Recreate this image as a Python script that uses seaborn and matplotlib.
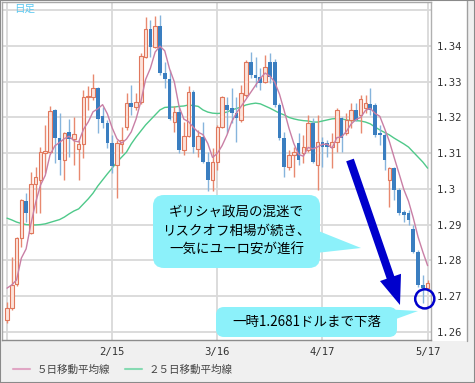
import numpy as np
import pandas as pd
import matplotlib
matplotlib.use("Agg")
import matplotlib.pyplot as plt
import seaborn as sns
from matplotlib.patches import FancyBboxPatch, Polygon, Rectangle, FancyArrowPatch
from matplotlib.lines import Line2D
from matplotlib.transforms import IdentityTransform

# ---------------- data (EUR/USD daily) ----------------
dates = pd.bdate_range("2012-01-16", "2012-05-17")

opens = [1.2633, 1.2666, 1.2734, 1.2862, 1.2966, 1.2876, 1.3014, 1.3025, 1.3100, 1.3103,
         1.3221, 1.3142, 1.3081, 1.3159, 1.3140, 1.3112, 1.3126, 1.3257, 1.3257, 1.3282,
         1.3204, 1.3184, 1.3128, 1.3067, 1.3126, 1.3173, 1.3240, 1.3229, 1.3243, 1.3369,
         1.3448, 1.3397, 1.3456, 1.3324, 1.3308, 1.3187, 1.3215, 1.3109, 1.3148, 1.3271,
         1.3112, 1.3145, 1.3075, 1.3025, 1.3075, 1.3173, 1.3235, 1.3226, 1.3212, 1.3193,
         1.3263, 1.3355, 1.3319, 1.3313, 1.3299, 1.3355, 1.3355, 1.3235, 1.3142, 1.3061,
         1.3095, 1.3128, 1.3100, 1.3109, 1.3184, 1.3067, 1.3131, 1.3128, 1.3117, 1.3131,
         1.3198, 1.3156, 1.3193, 1.3221, 1.3207, 1.3226, 1.3238, 1.3235, 1.3156, 1.3151,
         1.3025, 1.3058, 1.2997, 1.2935, 1.2932, 1.2888, 1.2823, 1.2731, 1.2722]
highs = [1.2683, 1.2809, 1.2866, 1.2972, 1.2988, 1.3047, 1.3061, 1.3117, 1.3179, 1.3232,
         1.3225, 1.3212, 1.3160, 1.3196, 1.3201, 1.3137, 1.3277, 1.3288, 1.3322, 1.3285,
         1.3229, 1.3193, 1.3151, 1.3137, 1.3173, 1.3268, 1.3291, 1.3268, 1.3380, 1.3481,
         1.3473, 1.3484, 1.3487, 1.3355, 1.3333, 1.3232, 1.3229, 1.3187, 1.3288, 1.3277,
         1.3165, 1.3187, 1.3103, 1.3114, 1.3179, 1.3260, 1.3257, 1.3282, 1.3257, 1.3291,
         1.3361, 1.3383, 1.3369, 1.3338, 1.3375, 1.3380, 1.3364, 1.3240, 1.3159, 1.3109,
         1.3117, 1.3156, 1.3151, 1.3207, 1.3198, 1.3207, 1.3145, 1.3137, 1.3156, 1.3226,
         1.3201, 1.3212, 1.3240, 1.3240, 1.3263, 1.3263, 1.3282, 1.3240, 1.3179, 1.3159,
         1.3061, 1.3061, 1.3002, 1.2941, 1.2941, 1.2899, 1.2830, 1.2759, 1.2745]
lows = [1.2624, 1.2661, 1.2728, 1.2837, 1.2907, 1.2874, 1.2932, 1.2932, 1.3044, 1.3100,
        1.3072, 1.3039, 1.3025, 1.3089, 1.3067, 1.3025, 1.3086, 1.3221, 1.3249, 1.3156,
        1.3170, 1.3114, 1.3044, 1.2974, 1.3100, 1.3165, 1.3207, 1.3221, 1.3238, 1.3366,
        1.3369, 1.3394, 1.3319, 1.3282, 1.3193, 1.3159, 1.3100, 1.3095, 1.3145, 1.3100,
        1.3089, 1.3072, 1.2995, 1.2995, 1.3053, 1.3170, 1.3156, 1.3184, 1.3131, 1.3187,
        1.3257, 1.3310, 1.3285, 1.3277, 1.3296, 1.3296, 1.3229, 1.3137, 1.3033, 1.3053,
        1.3033, 1.3067, 1.3072, 1.3103, 1.3072, 1.2997, 1.3061, 1.3089, 1.3058, 1.3103,
        1.3103, 1.3150, 1.3170, 1.3190, 1.3156, 1.3212, 1.3207, 1.3145, 1.3123, 1.3053,
        1.2949, 1.2969, 1.2927, 1.2907, 1.2899, 1.2820, 1.2725, 1.2681, 1.2717]
closes = [1.2666, 1.2731, 1.2862, 1.2969, 1.2932, 1.3014, 1.3033, 1.3103, 1.3106, 1.3218,
          1.3142, 1.3081, 1.3156, 1.3140, 1.3154, 1.3126, 1.3257, 1.3260, 1.3282, 1.3196,
          1.3184, 1.3128, 1.3064, 1.3128, 1.3137, 1.3240, 1.3229, 1.3243, 1.3372, 1.3448,
          1.3397, 1.3456, 1.3324, 1.3308, 1.3196, 1.3215, 1.3109, 1.3148, 1.3271, 1.3117,
          1.3148, 1.3075, 1.3025, 1.3075, 1.3173, 1.3257, 1.3221, 1.3212, 1.3198, 1.3268,
          1.3355, 1.3319, 1.3310, 1.3296, 1.3341, 1.3313, 1.3235, 1.3142, 1.3061, 1.3095,
          1.3103, 1.3081, 1.3117, 1.3184, 1.3075, 1.3131, 1.3117, 1.3117, 1.3131, 1.3221,
          1.3142, 1.3193, 1.3221, 1.3193, 1.3252, 1.3240, 1.3221, 1.3151, 1.3151, 1.3081,
          1.3058, 1.2997, 1.2932, 1.2927, 1.2913, 1.2823, 1.2731, 1.2722, 1.2736]
# first four 5-day MA values (need closes before the chart)
ma5_head = [1.2722, 1.2731, 1.2745, 1.2806]
# 25-day MA
ma25 = [1.2918, 1.2913, 1.2907, 1.2903, 1.2900, 1.2899, 1.2899, 1.2900, 1.2902, 1.2906,
        1.2910, 1.2914, 1.2921, 1.2930, 1.2938, 1.2944, 1.2958, 1.2972, 1.2988, 1.3008,
        1.3025, 1.3042, 1.3058, 1.3075, 1.3089, 1.3103, 1.3126, 1.3145, 1.3162, 1.3179,
        1.3193, 1.3207, 1.3221, 1.3228, 1.3229, 1.3229, 1.3231, 1.3232, 1.3235, 1.3233,
        1.3231, 1.3221, 1.3215, 1.3212, 1.3211, 1.3212, 1.3215, 1.3221, 1.3225, 1.3229,
        1.3235, 1.3238, 1.3240, 1.3238, 1.3232, 1.3226, 1.3219, 1.3212, 1.3207, 1.3200,
        1.3196, 1.3193, 1.3191, 1.3190, 1.3187, 1.3187, 1.3190, 1.3193, 1.3196, 1.3197,
        1.3196, 1.3193, 1.3191, 1.3191, 1.3190, 1.3187, 1.3182, 1.3173, 1.3165, 1.3158,
        1.3151, 1.3142, 1.3134, 1.3126, 1.3117, 1.3103, 1.3089, 1.3075, 1.3058]

y_ticks = [1.26, 1.27, 1.28, 1.29, 1.30, 1.31, 1.32, 1.33, 1.34, 1.35]
y_labels = ["1.26", "1.27", "1.28", "1.29", "1.3", "1.31", "1.32", "1.33", "1.34", ""]
tick_dates = ["2012-01-16", "2012-02-15", "2012-03-16", "2012-04-17", "2012-05-17"]
tick_labels = ["", "2/15", "3/16", "4/17", "5/17"]

legend_labels = ["５日移動平均線", "２５日移動平均線"]
title_label = "日足"
callout1 = ["ギリシャ政局の混迷で", "リスクオフ相場が続き、", "一気にユーロ安が進行"]
callout2 = "一時1.2681ドルまで下落"
circled_low = 1.2681

# ---------------- frame ----------------
df = pd.DataFrame({"date": dates, "open": opens, "high": highs,
                   "low": lows, "close": closes, "ma25": ma25})
df["idx"] = np.arange(len(df))
ma5 = df["close"].rolling(5).mean()
ma5.iloc[:4] = ma5_head
df["ma5"] = ma5

sns.set_theme(style="white")
plt.rcParams["font.family"] = ["Noto Sans CJK JP", "DejaVu Sans"]

W, H = 475, 383
fig = plt.figure(figsize=(W / 100, H / 100), dpi=100)
fig.patch.set_facecolor("white")

def fx(px):
    return px / W

def fy(py):
    return 1 - py / H

# grey panels (legend strip at bottom, thin strip at right)
fig.add_artist(Rectangle((0, 0), 1, fy(341), transform=fig.transFigure,
                         facecolor="#f0f0f0", edgecolor="none", zorder=-2))
fig.add_artist(Rectangle((fx(467), 0), 1 - fx(467), 1, transform=fig.transFigure,
                         facecolor="#f0f0f0", edgecolor="none", zorder=-2))
fig.add_artist(Line2D([fx(467), fx(467)], [fy(341), 1], transform=fig.transFigure,
                      color="#a0a0a0", lw=1, zorder=-1))
fig.add_artist(Rectangle((0, 0), 1, 1, transform=fig.transFigure, facecolor="none",
                         edgecolor="#8a8a8a", lw=1.5, zorder=10))

ax = fig.add_axes([fx(2), fy(340), fx(431) - fx(2), fy(2) - fy(340)])
ax.set_facecolor("white")

# ---------------- candles ----------------
up = df["close"] >= df["open"]
dn = ~up
ax.vlines(df.loc[up, "idx"], df.loc[up, "low"], df.loc[up, "high"],
          color="#e8896f", lw=1.0, zorder=2)
ax.vlines(df.loc[dn, "idx"], df.loc[dn, "low"], df.loc[dn, "high"],
          color="#86b4dc", lw=1.0, zorder=2)
ax.bar(df.loc[up, "idx"], (df["close"] - df["open"])[up].clip(lower=0.00015),
       bottom=df.loc[up, "open"], width=0.74, facecolor="#fde3da",
       edgecolor="#e0775c", lw=0.8, zorder=3)
ax.bar(df.loc[dn, "idx"], (df["open"] - df["close"])[dn].clip(lower=0.00015),
       bottom=df.loc[dn, "close"], width=0.78, color="#3a7ec0", lw=0, zorder=3)

# ---------------- moving averages ----------------
c5, c25 = "#c97fa5", "#4fc98a"
sns.lineplot(data=df, x="idx", y="ma5", color=c5, lw=1.0, ax=ax, zorder=4)
sns.lineplot(data=df, x="idx", y="ma25", color=c25, lw=1.0, ax=ax, zorder=1.5)

# ---------------- axes ----------------
step_px = 4.78
ax.set_xlim(-5 / step_px, (431 - 7) / step_px)
ax.set_ylim(1.34 - 294 * 0.00028, 1.34 + 44 * 0.00028)
xt = [int(df.index[df["date"] == pd.Timestamp(d)][0]) for d in tick_dates]
ax.set_xticks(xt)
ax.set_xticklabels(tick_labels, fontsize=7.6, family="DejaVu Sans Mono", color="#333333")
ax.set_yticks(y_ticks)
ax.set_yticklabels(y_labels, fontsize=7.6, family="DejaVu Sans Mono", color="#333333")
ax.yaxis.tick_right()
ax.tick_params(axis="both", length=0)
ax.tick_params(axis="x", pad=5.2)
ax.tick_params(axis="y", pad=4.2)
ax.set_xlabel("")
ax.set_ylabel("")
ax.grid(True, color="#d9d9d9", lw=1.3, zorder=0)
ax.set_axisbelow(True)
for s, c in [("left", "#a8a8a8"), ("top", "#a8a8a8"), ("bottom", "#8c8c8c"), ("right", "#b0b0b0")]:
    ax.spines[s].set_visible(True)
    ax.spines[s].set_color(c)
    ax.spines[s].set_linewidth(1.0)

# title tag
fig.text(fx(14), fy(9), title_label, fontsize=7.6, color="#5cc8f0", va="center", ha="left")

# ---------------- legend ----------------
handles = [Line2D([], [], color="#e0a6c4", lw=1.5), Line2D([], [], color="#86dab2", lw=1.5)]
fig.legend(handles, legend_labels, ncol=2, loc="center left",
           bbox_to_anchor=(fx(13), fy(370)), frameon=False, fontsize=7.6,
           handlelength=1.65, handletextpad=0.6, columnspacing=1.4,
           borderpad=0, borderaxespad=0, labelcolor="#444444")

# ---------------- annotations (pixel space) ----------------
idt = IdentityTransform()
cyan = "#8cf1fa"

def P(x, y):
    return (x, H - y)

box1 = FancyBboxPatch(P(153, 268), 167, 73, boxstyle="round,pad=0,rounding_size=11",
                      transform=idt, facecolor=cyan, edgecolor="none", zorder=20)
fig.add_artist(box1)
fig.add_artist(Polygon([P(316, 230), P(361, 248), P(316, 253)], closed=True,
                       transform=idt, facecolor=cyan, edgecolor="none", zorder=20))
for line, yy in zip(callout1, [212, 231, 250]):
    fig.text(fx(236.5), fy(yy), line, fontsize=9.7, color="black", ha="center",
             va="center", zorder=21)

box2 = FancyBboxPatch(P(216, 337), 181, 30, boxstyle="round,pad=0,rounding_size=8",
                      transform=idt, facecolor=cyan, edgecolor="none", zorder=20)
fig.add_artist(box2)
fig.add_artist(Polygon([P(382, 309), P(418, 311), P(396, 319)], closed=True,
                       transform=idt, facecolor=cyan, edgecolor="none", zorder=20))
fig.text(fx(306.5), fy(322), callout2, fontsize=9.7, color="black", ha="center",
         va="center", zorder=21)

arrow = FancyArrowPatch(P(350, 160), P(400, 305), transform=idt,
                        arrowstyle="simple,head_length=2.1,head_width=1.6,tail_width=0.58",
                        mutation_scale=10, color="#0000cc", shrinkA=0, shrinkB=0,
                        lw=0, zorder=22)
fig.add_artist(arrow)

# circle round the candle that set the 1.2681 low
i_low = int(np.argmin(np.abs(np.array(lows) - circled_low)))
ax.scatter([i_low + 0.4], [lows[i_low] + 0.0011], s=190, facecolors="none",
           edgecolors="#0000cc", linewidths=1.8, zorder=6, clip_on=False)

fig.savefig("out.png", dpi=100, facecolor=fig.get_facecolor())
